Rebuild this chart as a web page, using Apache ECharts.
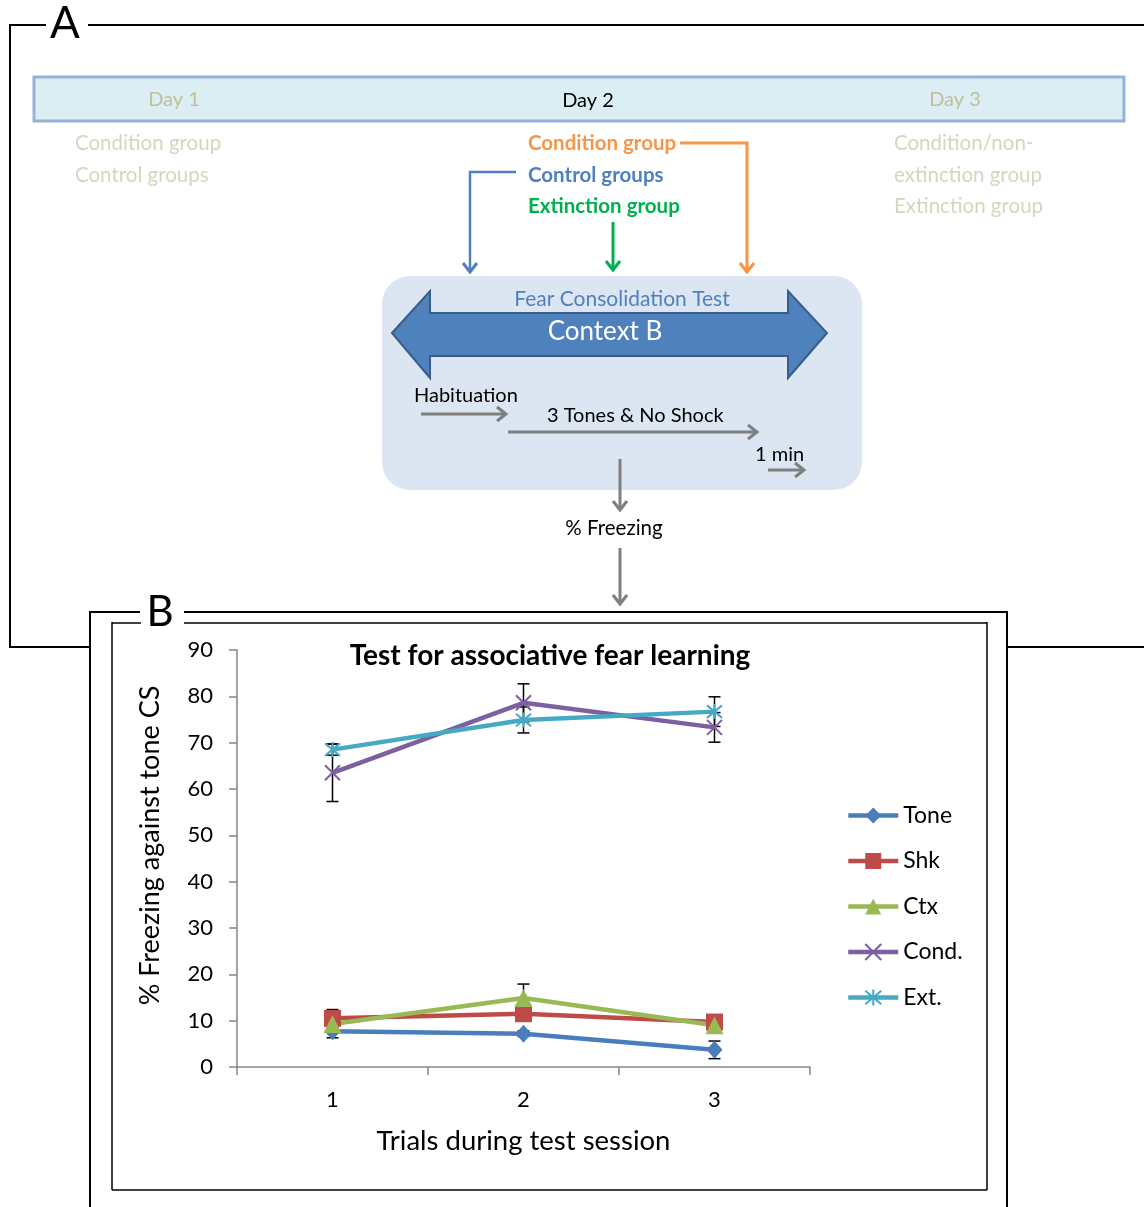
<!DOCTYPE html>
<html>
<head>
<meta charset="utf-8">
<script src="https://cdn.jsdelivr.net/npm/echarts@6/dist/echarts.min.js"></script>
<style>
  html, body { margin: 0; padding: 0; background: #fff; }
  #main { width: 1144px; height: 1207px; }
</style>
</head>
<body>
<div id="main"></div>
<script>
// Trials of the context-B test session
const trials = ['1', '2', '3'];

// % freezing (mean) and error (±) per group
const seriesNames = ['Tone', 'Shk', 'Ctx', 'Cond.', 'Ext.'];
const tone    = [7.7, 7.2, 3.7];
const toneErr = [1.4, 0.6, 1.9];
const shk     = [10.5, 11.5, 9.7];
const shkErr  = [1.9, 1.0, 0.8];
const ctx     = [9.3, 14.9, 9.0];
const ctxErr  = [1.0, 3.0, 0.8];
const cond    = [63.5, 78.6, 73.3];
const condErr = [6.2, 4.1, 3.2];
const ext     = [68.5, 74.9, 76.7];
const extErr  = [1.2, 2.8, 3.2];

const FONT = 'Lato, "Open Sans", sans-serif';
const colors = ['#4a7ebb', '#be4b48', '#98b954', '#7d60a0', '#46aac5'];

// ---------- protocol diagram (panel A) helpers ----------
const G = [];
function seg(x1, y1, x2, y2, color, w) {
  G.push({ type: 'line', silent: true,
    shape: { x1, y1, x2, y2 },
    style: { stroke: color, lineWidth: w, lineCap: 'butt' } });
}
function poly(points, color, w) {
  G.push({ type: 'polyline', silent: true,
    shape: { points },
    style: { stroke: color, lineWidth: w, fill: null, lineJoin: 'miter' } });
}
function headRight(x, y, color) { poly([[x - 9, y - 7], [x, y], [x - 9, y + 7]], color, 3); }
function headDown(x, y, color) { poly([[x - 7, y - 9], [x, y], [x + 7, y - 9]], color, 3); }
function txt(text, x, y, font, color, align) {
  G.push({ type: 'text', silent: true, x, y,
    style: { text, font, fill: color,
      align: align || 'left', verticalAlign: 'middle',
      textAlign: align || 'left', textVerticalAlign: 'middle' } });
}

// outer frames
const K = '#000';
seg(10, 25, 46, 25, K, 2);
seg(88, 25, 1144, 25, K, 2);
seg(10, 24, 10, 648, K, 2);
seg(9, 647, 90, 647, K, 2);
seg(1007, 647, 1144, 647, K, 2);
txt('A', 65, 24, '44px ' + FONT, K, 'center');

seg(89, 612, 140, 612, K, 2);
seg(184, 612, 1008, 612, K, 2);
seg(90, 611, 90, 1207, K, 2);
seg(1007, 611, 1007, 1207, K, 2);
txt('B', 160, 612, '42px ' + FONT, K, 'center');
// inner chart border
seg(112, 623, 141, 623, K, 1.5);
seg(184, 623, 987, 623, K, 1.5);
seg(112, 622, 112, 1190, K, 1.5);
seg(987, 622, 987, 1190, K, 1.5);
seg(112, 1190, 987, 1190, K, 1.5);

// day bar
G.push({ type: 'rect', silent: true,
  shape: { x: 34, y: 77, width: 1090, height: 44 },
  style: { fill: '#dbeef4', stroke: '#95b3d7', lineWidth: 3 } });
txt('Day 1', 174, 100, '20px ' + FONT, '#c4bd97', 'center');
txt('Day 2', 588, 101, '20px ' + FONT, '#000', 'center');
txt('Day 3', 955, 100, '20px ' + FONT, '#c4bd97', 'center');

const faint = '#d8d4bf';
txt('Condition group', 75, 143, '20.5px ' + FONT, faint);
txt('Control groups', 75, 175, '20.5px ' + FONT, faint);
txt('Condition/non-', 894, 143, '20.5px ' + FONT, faint);
txt('extinction group', 894, 175, '20.5px ' + FONT, faint);
txt('Extinction group', 894, 206, '20.5px ' + FONT, faint);

txt('Condition group', 528, 143, 'bold 20.5px ' + FONT, '#f79646');
txt('Control groups', 528, 175, 'bold 20.5px ' + FONT, '#4f81bd');
txt('Extinction group', 528, 206, 'bold 20.5px ' + FONT, '#00b050');

// group arrows into the test box
poly([[680, 143], [747, 143], [747, 271]], '#f79646', 3);
headDown(747, 272, '#f79646');
poly([[516, 172], [470, 172], [470, 271]], '#4f81bd', 2.5);
headDown(470, 272, '#4f81bd');
seg(613, 222, 613, 269, '#00b050', 3);
headDown(613, 270, '#00b050');

// test box
G.push({ type: 'rect', silent: true,
  shape: { x: 382, y: 276, width: 480, height: 214, r: 28 },
  style: { fill: '#dce6f2' } });
G.push({ type: 'polygon', silent: true,
  shape: { points: [[392, 333], [430, 291], [430, 313], [788, 313], [788, 291],
                    [827, 333], [788, 378], [788, 356], [430, 356], [430, 378]] },
  style: { fill: '#4f81bd', stroke: '#385d8a', lineWidth: 2 } });
txt('Fear Consolidation Test', 622, 299, '21px ' + FONT, '#4f81bd', 'center');
txt('Context B', 605, 332, '26px ' + FONT, '#fff', 'center');

const GR = '#7f7f7f';
txt('Habituation', 414, 396, '20px ' + FONT, '#000');
seg(421, 414, 505, 414, GR, 3);
headRight(506, 414, GR);
txt('3 Tones & No Shock', 547, 416, '20px ' + FONT, '#000');
seg(508, 432, 756, 432, GR, 3);
headRight(757, 432, GR);
txt('1 min', 755, 455, '20px ' + FONT, '#000');
seg(768, 470, 803, 470, GR, 3);
headRight(804, 470, GR);

seg(620, 459, 620, 509, GR, 3);
headDown(620, 510, GR);
txt('% Freezing', 614, 528, '20.5px ' + FONT, '#000', 'center');
seg(620, 548, 620, 603, GR, 3);
headDown(620, 604, GR);

// chart title
txt('Test for associative fear learning', 550, 656, 'bold 28px ' + FONT, '#000', 'center');

// ---------- error bars ----------
function errData(vals, errs) {
  return vals.map((v, i) => [i, v - errs[i], v + errs[i]]);
}
function errRender(params, api) {
  const i = api.value(0);
  const lo = api.coord([i, api.value(1)]);
  const hi = api.coord([i, api.value(2)]);
  const w = 6;
  const st = { stroke: '#000', lineWidth: 1.5 };
  return { type: 'group', children: [
    { type: 'line', shape: { x1: lo[0], y1: lo[1], x2: hi[0], y2: hi[1] }, style: st },
    { type: 'line', shape: { x1: lo[0] - w, y1: lo[1], x2: lo[0] + w, y2: lo[1] }, style: st },
    { type: 'line', shape: { x1: hi[0] - w, y1: hi[1], x2: hi[0] + w, y2: hi[1] }, style: st }
  ] };
}

const values = [tone, shk, ctx, cond, ext];
const errors = [toneErr, shkErr, ctxErr, condErr, extErr];
const symbols = [
  'diamond',
  'rect',
  'triangle',
  'path://M0,0L10,10M10,0L0,10',
  'path://M0,0L10,10M10,0L0,10M5,-1L5,11'
];
const symSizes = [[16, 18], 17, 18, 15, 15];

const series = [];
values.forEach((v, k) => {
  series.push({
    type: 'custom', name: seriesNames[k] + ' error', z: 1,
    renderItem: errRender, silent: true,
    encode: { x: 0, y: [1, 2] },
    data: errData(v, errors[k])
  });
});
values.forEach((v, k) => {
  const open = k >= 3;
  series.push({
    type: 'line', name: seriesNames[k], z: 3,
    data: v,
    symbol: symbols[k],
    symbolSize: symSizes[k],
    showAllSymbol: true,
    lineStyle: { color: colors[k], width: 4.5 },
    itemStyle: open
      ? { color: colors[k], borderColor: colors[k], borderWidth: 2 }
      : { color: colors[k], borderWidth: 0 },
    emphasis: { disabled: true },
    animation: false
  });
});

const chart = echarts.init(document.getElementById('main'));
chart.setOption({
  animation: false,
  backgroundColor: '#fff',
  textStyle: { fontFamily: FONT },
  graphic: { elements: G },
  grid: { left: 237, right: 334, top: 650, bottom: 140, containLabel: false },
  legend: {
    data: seriesNames,
    orient: 'vertical',
    left: 846, top: 804,
    padding: 0,
    itemWidth: 50, itemHeight: 20, itemGap: 22.5,
    lineStyle: { width: 4.5 },
    textStyle: { fontSize: 23, lineHeight: 22, color: '#000', fontFamily: FONT },
    selectedMode: false
  },
  xAxis: {
    type: 'category',
    data: trials,
    boundaryGap: true,
    axisLine: { lineStyle: { color: '#868686', width: 1.5 } },
    axisTick: { show: true, length: 8, lineStyle: { color: '#868686', width: 1.5 } },
    axisLabel: { fontSize: 22, color: '#000', margin: 22, fontFamily: FONT },
    name: 'Trials during test session',
    nameLocation: 'middle',
    nameGap: 60,
    nameTextStyle: { fontSize: 27.5, color: '#000', fontFamily: FONT }
  },
  yAxis: {
    type: 'value',
    min: 0, max: 90, interval: 10,
    axisLine: { show: true, lineStyle: { color: '#868686', width: 1.5 } },
    axisTick: { show: true, length: 8, lineStyle: { color: '#868686', width: 1.5 } },
    splitLine: { show: false },
    axisLabel: { fontSize: 22, color: '#000', margin: 24, fontFamily: FONT },
    name: '% Freezing against tone CS',
    nameLocation: 'middle',
    nameGap: 73,
    nameTextStyle: { fontSize: 27, color: '#000', fontFamily: FONT, padding: [0, 0, 0, 26] }
  },
  series
});
</script>
</body>
</html>
